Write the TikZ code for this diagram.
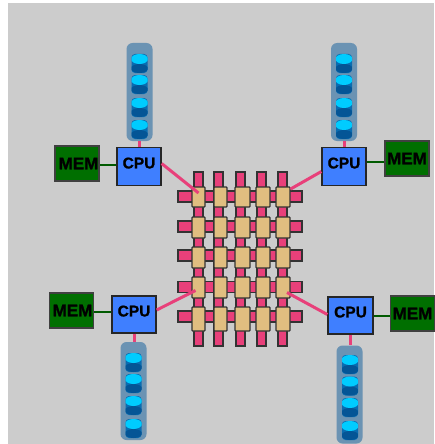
\documentclass[tikz,border=0pt]{standalone}
\usepackage{fontspec}
\setmainfont{Liberation Sans}[BoldFeatures={FakeBold=1.2}]
\usepackage{tikz}
\definecolor{colorBack}{HTML}{CCCCCC}
\definecolor{colorLink}{HTML}{E8407A}
\definecolor{colorRouter}{HTML}{E0BE80}
\definecolor{colorCpu}{HTML}{3F7FFF}
\definecolor{colorMem}{HTML}{006F00}
\definecolor{colorWire}{HTML}{005A00}
\definecolor{colorStore}{HTML}{6B93B3}
\definecolor{colorDiskTop}{HTML}{00CCFF}
\definecolor{colorDiskBody}{HTML}{0A6CB0}
\definecolor{colorDiskLow}{HTML}{045596}
\tikzset{
  cpubox/.style={draw=black!85, line width=1.3pt, fill=colorCpu, minimum width=44pt, minimum height=38pt, inner sep=0pt, text depth=7pt, font=\bfseries\fontsize{15.5}{15.5}\selectfont},
  membox/.style={draw=black!75, line width=1.3pt, fill=colorMem, minimum width=44pt, minimum height=35pt, inner sep=0pt, font=\bfseries\fontsize{17}{17}\selectfont},
  storebox/.style={rounded corners=6pt, fill=colorStore, minimum width=26pt, minimum height=98pt, inner sep=0pt},
  diskbox/.style={rounded corners=3.5pt, fill=colorDiskBody, minimum width=16pt, minimum height=19pt, inner sep=0pt,
    path picture={
      \fill[colorDiskLow] ([yshift=4.5pt]path picture bounding box.south) ellipse (8.5pt and 4.5pt);
      \fill[colorDiskTop] ([yshift=-5pt]path picture bounding box.north) ellipse (8.5pt and 5pt);
    }},
  linkbox/.style={draw=black!80, line width=1.2pt, fill=colorLink, inner sep=0pt},
  router/.style={draw=black!80, line width=1.2pt, fill=colorRouter, rounded corners=0.8pt, inner sep=0pt},
  hopline/.style={colorLink, line width=3pt},
  stubline/.style={colorLink, line width=3pt},
  memline/.style={colorWire, line width=2pt},
}
\begin{document}
\begin{tikzpicture}[x=1pt, y=-1pt]
\useasboundingbox (0,0) rectangle (434,444);
\fill[colorBack] (8,3) rectangle (434,444);
% mesh
\foreach \i/\y/\h in {1/196.5/11, 2/226.5/11, 3/255.5/11, 4/287/11, 5/316.5/11}
  \node[linkbox, minimum width=124pt, minimum height=\h pt] (hlink\i) at (240,\y) {};
\foreach \j/\x in {1/198.5, 2/218.5, 3/240.5, 4/261.5, 5/282.5}
  \node[linkbox, minimum width=9pt, minimum height=174pt] (vlink\j) at (\x,259) {};
\foreach \i/\y/\h in {1/197/20, 2/227.5/21, 3/257.5/21, 4/287.5/21, 5/319/24}
  \foreach \j/\x/\w in {1/198.5/13, 2/220.5/13, 3/242.5/15, 4/263/14, 5/283/14}
    \node[router, minimum width=\w pt, minimum height=\h pt] (r\i\j) at (\x,\y) {};
% processors
\node[cpubox] (cpuA) at (139,166.5) {CPU\hspace{6pt}};
\node[cpubox] (cpuB) at (344,166.5) {CPU\hspace{5pt}};
\node[cpubox, minimum height=37pt] (cpuC) at (134,314.5) {CPU\hspace{4pt}};
\node[cpubox, minimum height=37pt, minimum width=45pt] (cpuD) at (350.5,315.5) {CPU\hspace{6pt}};
% memories
\node[membox] (memA) at (77,163.5) {\hspace{3pt}MEM};
\node[membox] (memB) at (407,158.5) {MEM};
\node[membox] (memC) at (71.5,310.5) {\hspace{2pt}MEM};
\node[membox] (memD) at (412.5,313.5) {MEM};
% storage
\node[storebox] (storeA) at (139.5,92) {};
\node[storebox] (storeB) at (344,92) {};
\node[storebox] (storeC) at (133.5,391) {};
\node[storebox] (storeD) at (349.5,394.5) {};
\foreach \k/\y in {1/63.5, 2/84.5, 3/107.5, 4/129.5} {
  \node[diskbox] (diskA\k) at (139.5,\y) {};
  \node[diskbox] (diskB\k) at (344,\y) {};
}
\foreach \k/\y in {1/362.5, 2/383.5, 3/405.5, 4/428.5}
  \node[diskbox] (diskC\k) at (133.5,\y) {};
\foreach \k/\y in {1/364.5, 2/386, 3/407.5, 4/430.5}
  \node[diskbox] (diskD\k) at (350,\y) {};
% connectors
\draw[hopline] ([yshift=3pt]cpuA.east) -- ([yshift=4pt]r11.center);
\draw[hopline] ([yshift=-5pt]cpuB.west) -- ([yshift=8pt]r15.east);
\draw[hopline] ([yshift=4.5pt]cpuC.east) -- ([xshift=-3pt,yshift=-3pt]r41.center);
\draw[hopline] ([yshift=1pt]cpuD.west) -- ([xshift=4pt,yshift=-5pt]r45.center);
\draw[stubline] (cpuA.north) -- (cpuA.north |- storeA.south);
\draw[stubline] (cpuB.north) -- (cpuB.north |- storeB.south);
\draw[stubline] (cpuC.south) -- (cpuC.south |- storeC.north);
\draw[stubline] (cpuD.south) -- (cpuD.south |- storeD.north);
\draw[memline] ([yshift=1.5pt]cpuA.west) -- ([yshift=1.5pt]cpuA.west -| memA.east);
\draw[memline] ([yshift=4.5pt]cpuB.east) -- ([yshift=4.5pt]cpuB.east -| memB.west);
\draw[memline] ([yshift=2.5pt]cpuC.west) -- ([yshift=2.5pt]cpuC.west -| memC.east);
\draw[memline] (cpuD.east) -- (cpuD.east -| memD.west);
\end{tikzpicture}
\end{document}
